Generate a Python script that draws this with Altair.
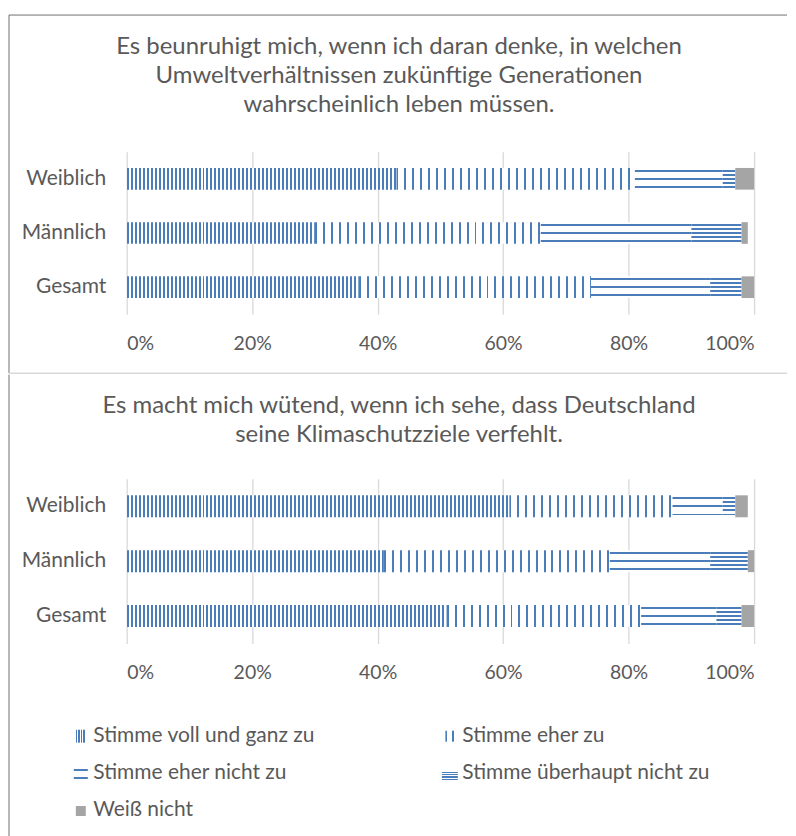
import altair as alt
import pandas as pd

# ---------------- data ----------------
groups = ["Weiblich", "Männlich", "Gesamt"]
categories = [
    "Stimme voll und ganz zu",
    "Stimme eher zu",
    "Stimme eher nicht zu",
    "Stimme überhaupt nicht zu",
    "Weiß nicht",
]
title_1 = [
    "Es beunruhigt mich, wenn ich daran denke, in welchen",
    "Umweltverhältnissen zukünftige Generationen",
    "wahrscheinlich leben müssen.",
]
title_2 = [
    "Es macht mich wütend, wenn ich sehe, dass Deutschland",
    "seine Klimaschutzziele verfehlt.",
]
# percentages, in category order
q1_weiblich = [43, 38, 14, 2, 3]
q1_maennlich = [30, 36, 24, 8, 1]
q1_gesamt = [37, 37, 19, 5, 2]
q2_weiblich = [61, 26, 8, 2, 2]
q2_maennlich = [41, 36, 16, 6, 1]
q2_gesamt = [51, 31, 12, 4, 2]
x_tick_values = [0, 0.2, 0.4, 0.6, 0.8, 1.0]

# ---------------- style ----------------
FONT = "Lato"
TXT = "#595959"
BLUE = "#4a7dba"
GRAY = "#a5a5a5"
BG = "#ffffff"
W = 629
H = 163
BAR_H = H / 3 * 0.4


def segments(rows):
    recs = []
    for g, vals in zip(groups, rows):
        s = 0
        for c, v in zip(categories, vals):
            recs.append(dict(group=g, category=c, start=s / 100, end=(s + v) / 100, value=v))
            s += v
    return pd.DataFrame(recs)


def striped(length, pitch, line, first=0.0, vertical=True):
    stops = [dict(offset=0, color=BG)]
    p = first
    while p < length - 0.05:
        a = p / length
        b = min(p + line, length) / length
        stops += [dict(offset=a, color=BG), dict(offset=a, color=BLUE),
                  dict(offset=b, color=BLUE), dict(offset=b, color=BG)]
        p += pitch
    stops.append(dict(offset=1, color=BG))
    if vertical:
        return dict(gradient="linear", x1=0, y1=0, x2=1, y2=0, stops=stops)
    return dict(gradient="linear", x1=0, y1=0, x2=0, y2=1, stops=stops)


x_axis = alt.Axis(values=x_tick_values, format=".0%", grid=True, gridColor="#d9d9d9",
                  gridWidth=1.3, domain=False, ticks=False, labelFontSize=19.5,
                  labelColor=TXT, labelFont=FONT, labelPadding=20, title=None)
y_axis = alt.Axis(domain=False, ticks=False, labelFontSize=21, labelColor=TXT,
                  labelFont=FONT, labelPadding=21, title=None)


def bar_layers(df):
    enc = dict(
        y=alt.Y("group:N", sort=groups,
                scale=alt.Scale(domain=groups, paddingInner=0.6, paddingOuter=0.3),
                axis=y_axis),
        x=alt.X("start:Q", scale=alt.Scale(domain=[0, 1]), axis=x_axis),
        x2="end:Q",
    )
    layers = []
    for i, c in enumerate(categories):
        if i < 2:
            pitch, line = (4, 2) if i == 0 else (8, 2)
            for g in groups:
                v = float(df[(df.group == g) & (df.category == c)].value.iloc[0])
                wpx = v / 100 * W
                fill = striped(wpx, pitch, line, 0.0, True)
                layers.append(
                    alt.Chart(df).mark_bar(fill=fill, strokeWidth=0)
                    .encode(**enc)
                    .transform_filter((alt.datum.category == c) & (alt.datum.group == g))
                )
        else:
            if i == 2:
                fill = striped(BAR_H, 8, 1.8, 2.0, False)
            elif i == 3:
                fill = striped(BAR_H, 4, 1.8, 2.0, False)
            else:
                fill = GRAY
            layers.append(
                alt.Chart(df).mark_bar(fill=fill, strokeWidth=0)
                .encode(**enc)
                .transform_filter(alt.datum.category == c)
            )
    return layers


one = pd.DataFrame({"k": [0]})


def rule(x1, x2, y1, y2, color, width):
    return alt.Chart(one).mark_rule(color=color, strokeWidth=width).encode(
        x=alt.value(x1), x2=alt.value(x2), y=alt.value(y1), y2=alt.value(y2))


def title_mark(lines, y_top):
    return alt.Chart(one).mark_text(
        text=lines, fontSize=24, font=FONT, color=TXT, lineHeight=29,
        align="center", baseline="top"
    ).encode(x=alt.value(273), y=alt.value(y_top))


df1 = segments([q1_weiblich, q1_maennlich, q1_gesamt])
df2 = segments([q2_weiblich, q2_maennlich, q2_gesamt])

# ---------------- legend (drawn below the second chart) ----------------
leg = pd.DataFrame({
    "category": categories,
    "col": [i % 2 for i in range(len(categories))],
    "row": [i // 2 for i in range(len(categories))],
})
leg_base = alt.Chart(leg).transform_calculate(
    px="-46 + datum.col * 370", py="258 + datum.row * 37"
)
lx = alt.X("px:Q", scale=None, axis=None)
ly = alt.Y("py:Q", scale=None, axis=None)

sym_specs = [
    (10, 13, 0, striped(10, 2.5, 1.3, 0.0, True)),
    (9, 11, 0, striped(9, 7, 1.6, 0.0, True)),
    (14, 14, 0, striped(14, 8, 1.6, 3.0, False)),
    (16, 10, 3, striped(10, 2.4, 1.3, 0.5, False)),
    (10, 10, 1, GRAY),
]
leg_layers = []
for c, (w, h, yo, f) in zip(categories, sym_specs):
    leg_layers.append(
        leg_base.mark_rect(width=w, height=h, fill=f, yOffset=yo, strokeWidth=0)
        .encode(x=lx, y=ly)
        .transform_filter(alt.datum.category == c)
    )
leg_layers.append(
    leg_base.mark_text(align="left", baseline="middle", dx=12.5, fontSize=21,
                       font=FONT, color=TXT)
    .encode(x=lx, y=ly, text="category:N")
)

FRAME = "#6f6f6f"
RIGHT = 662
top = alt.layer(
    *bar_layers(df1),
    title_mark(title_1, -117),
    rule(-118, RIGHT, -137, -137, FRAME, 1),
    rule(-118, -118, -137, 222, FRAME, 1),
    rule(-118, RIGHT, 222, 222, "#d9d9d9", 1.5),
).properties(width=W, height=H)

bottom = alt.layer(
    *bar_layers(df2),
    title_mark(title_2, -85),
    *leg_layers,
    rule(-118, -118, -104.5, 368, FRAME, 1),
).properties(width=W, height=H + 2)

chart = alt.vconcat(top, bottom, spacing=0).properties(
    padding={"left": 0, "top": 5, "right": 0, "bottom": 0}
).configure_view(strokeWidth=0)

chart.save("out.html", embed_options={"renderer": "svg", "actions": False})
